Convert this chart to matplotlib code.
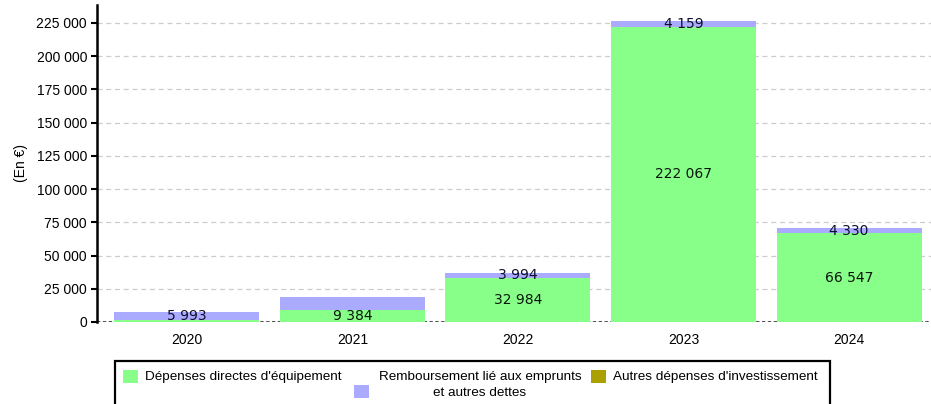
import matplotlib
matplotlib.use("Agg")
import matplotlib.pyplot as plt
from matplotlib.patches import Rectangle
import numpy as np

years = ["2020", "2021", "2022", "2023", "2024"]
equipement = [1500, 9384, 32984, 222067, 66547]
remboursement = [5993, 9300, 3994, 4159, 4330]
autres = [0, 0, 0, 0, 0]
show_eq_label = [False, True, True, True, True]
show_rb_label = [True, False, True, True, True]
yticks = [0, 25000, 50000, 75000, 100000, 125000, 150000, 175000, 200000, 225000]
series_names = ["Dépenses directes d'équipement",
                "Remboursement lié aux emprunts\net autres dettes",
                "Autres dépenses d'investissement"]

def fmt(v):
    return f"{v:,}".replace(",", " ")

plt.rcParams['font.family'] = ['Liberation Sans', 'DejaVu Sans']
W, H = 931, 404
fig = plt.figure(figsize=(W / 100, H / 100), dpi=100)
ax = fig.add_axes([0.104, 0.203, 0.896, 0.785])

x = np.arange(len(years))
w = 0.876
c_eq = "#88FF88"
c_rb = "#AAAAFF"
c_au = "#AAA000"

ax.bar(x, equipement, w, color=c_eq, zorder=3)
ax.bar(x, remboursement, w, bottom=equipement, color=c_rb, zorder=3)
bottom3 = [a + b for a, b in zip(equipement, remboursement)]
ax.bar(x, autres, w, bottom=bottom3, color=c_au, zorder=3)

for i in range(len(years)):
    if show_eq_label[i]:
        ax.text(x[i], equipement[i] / 2, fmt(equipement[i]), ha="center", va="center",
                fontsize=10, family="DejaVu Sans", color="#0a160c", zorder=5)
    if show_rb_label[i]:
        ax.text(x[i], equipement[i] + remboursement[i] / 2, fmt(remboursement[i]),
                ha="center", va="center", fontsize=10, family="DejaVu Sans",
                color="#0e0e2a", zorder=5)

ax.set_xlim(-0.544, 4.495)
ax.set_ylim(0, 238500)
ax.set_yticks(yticks)
ax.set_yticklabels([fmt(v) for v in yticks], fontsize=10)
ax.set_xticks(x)
ax.set_xticklabels(years, fontsize=10)
ax.tick_params(axis="x", length=0, pad=8)
ax.tick_params(axis="y", length=4, width=1.5, direction="out", pad=3)

for v in yticks[1:]:
    ax.axhline(v, color="#cccccc", lw=0.9, ls=(0, (4, 3)), zorder=1)
ax.axhline(0, color="#333333", lw=1.2, ls=(0, (2, 1.5)), zorder=1)

for s in ["top", "right", "bottom"]:
    ax.spines[s].set_visible(False)
ax.spines["left"].set_linewidth(1.8)
ax.spines["left"].set_zorder(6)

ax.set_ylabel("(En €)", fontsize=10, labelpad=6)

# legend drawn manually (pixel coordinates converted to figure fraction)
def fx(px):
    return px / W

def fy(py):
    return 1 - py / H

fig.patches.append(Rectangle((fx(115), fy(410)), fx(830) - fx(115), fy(361) - fy(410),
                             transform=fig.transFigure, fill=False, edgecolor="black",
                             lw=1.6, zorder=10))
colors = [c_eq, c_rb, c_au]
handle_px = [(123, 370), (354, 385), (591, 370)]
for (hx, hy), c in zip(handle_px, colors):
    fig.patches.append(Rectangle((fx(hx), fy(hy + 13)), fx(15), 13 / H,
                                 transform=fig.transFigure, facecolor=c,
                                 edgecolor="none", zorder=11))
fig.text(fx(145), fy(377), series_names[0], fontsize=9.7, ha="left", va="center")
line1, line2 = series_names[1].split("\n")
fig.text(fx(480), fy(377), line1, fontsize=9.7, ha="center", va="center")
fig.text(fx(480), fy(393), line2, fontsize=9.7, ha="center", va="center")
fig.text(fx(613), fy(377), series_names[2], fontsize=9.7, ha="left", va="center")

fig.savefig("out.png", dpi=100)
